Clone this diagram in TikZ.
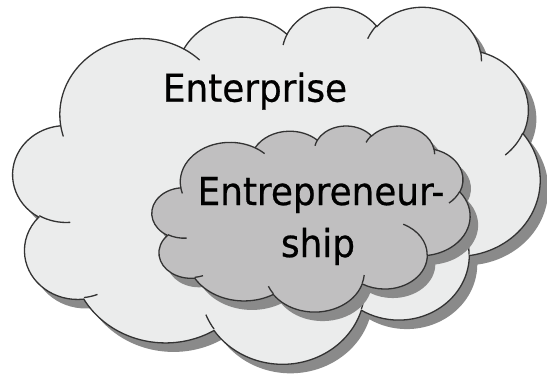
\documentclass[tikz,border=0pt]{standalone}
\usepackage{fontspec}
\setmainfont{DejaVu Sans}[FakeStretch=0.93, FakeBold=0.6]
\definecolor{bigfill}{HTML}{EBECEC}
\definecolor{smallfill}{HTML}{C0BFC0}
\definecolor{shadowc}{HTML}{8A8A8A}
\definecolor{linec}{HTML}{333333}
% elliptical arc in DrawingML style: radii, visual start angle, visual sweep
\newcommand\carc[4]{arc[x radius=#1, y radius=#2,
  start angle={atan2((#1)*sin(#3),(#2)*cos(#3))},
  delta angle={mod(atan2((#1)*sin((#3)+(#4)),(#2)*cos((#3)+(#4)))-atan2((#1)*sin(#3),(#2)*cos(#3))+720,360)}]}
\newcommand\cloudoutline{(39.00,143.70)
  \carc{67.53}{91.90}{-190.48748}{123.78053}
  \carc{53.33}{72.67}{-144.10238}{89.94523}
  \carc{43.65}{59.45}{-145.80792}{99.72302}
  \carc{48.57}{65.95}{-130.98607}{117.24173}
  \carc{53.33}{72.73}{-78.70888}{109.02692}
  \carc{67.75}{92.20}{-46.26725}{130.269}
  \carc{57.85}{78.67}{0.62502}{114.03333}
  \carc{67.52}{92.15}{22.4516}{115.17255}
  \carc{77.20}{105.43}{66.24263}{75.71102}
  \carc{43.60}{59.18}{-274.94208}{146.73557}
  \carc{43.45}{59.45}{-246.8285}{152.51885} -- cycle}
\newcommand\cloudinner{%
  (46.93,261.77) \carc{43.45}{59.45}{86.742}{26.4295}
  (69.28,348.99) \carc{43.60}{59.18}{73.61047}{11.44747}
  (164.78,390.90) \carc{67.52}{92.15}{137.62415}{14.0811}
  (288.27,347.51) \carc{67.52}{92.15}{6.45327}{15.99835}
  (341.29,229.54) \carc{57.85}{78.67}{-70.29235}{70.91737}
  (417.98,153.54) \carc{53.33}{72.73}{30.31803}{27.7515}
  (383.24,54.26) \carc{48.57}{65.95}{-13.74433}{14.8589}
  (290.78,39.52) \carc{48.57}{65.95}{-149.18145}{18.19537}
  (221.41,47.20) \carc{43.65}{59.45}{-163.49427}{17.68635}
  (140.00,51.92) \carc{67.53}{91.90}{-66.70695}{12.31935}
  (41.27,157.89) \carc{67.53}{91.90}{157.65435}{11.85817}}
\tikzset{
  cloudline/.style={draw=linec, line width=1.3bp},
  cloudtext/.style={font=\fontsize{38.5bp}{46bp}\selectfont, text=black, inner sep=0pt, anchor=base},
  bigcloud/.style={xscale=1.21991, yscale=0.82639},
  smallcloud/.style={xscale=0.73611, yscale=0.43056}
}
\begin{document}
\begin{tikzpicture}[x=1bp, y=-1bp]
  \fill[white] (0,0) rectangle (547,377);
  \useasboundingbox (0,0) rectangle (547,377);
  % big cloud
  \begin{scope}[shift={(21,15)}, bigcloud]
    \fill[shadowc] \cloudoutline;
  \end{scope}
  \begin{scope}[shift={(13,6)}, bigcloud]
    \filldraw[cloudline, fill=bigfill] \cloudoutline;
    \draw[cloudline] \cloudinner;
  \end{scope}
  % small cloud
  \begin{scope}[shift={(160,134.4)}, smallcloud]
    \fill[shadowc] \cloudoutline;
  \end{scope}
  \begin{scope}[shift={(152,125.4)}, smallcloud]
    \filldraw[cloudline, fill=smallfill] \cloudoutline;
    \draw[cloudline] \cloudinner;
  \end{scope}
  % texts
  \node[cloudtext] (enterprise) at (255,101.7) {Enterprise};
  \node[cloudtext] (entre1) at (321,205) {Entrepreneur-};
  \node[cloudtext] (entre2) at (318,257) {ship};
\end{tikzpicture}
\end{document}
